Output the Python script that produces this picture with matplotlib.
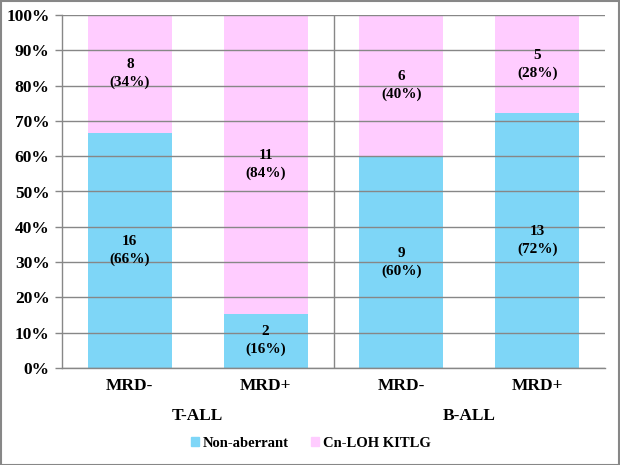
import matplotlib.pyplot as plt
from matplotlib.patches import Rectangle

plt.rcParams['font.family'] = ['Liberation Serif', 'DejaVu Serif']
plt.rcParams['font.weight'] = 'bold'

categories = ["MRD-", "MRD+", "MRD-", "MRD+"]
groups = ["T-ALL", "B-ALL"]
non_aberrant_pct = [66.7, 15.4, 60.0, 72.2]
cnloh_pct = [33.3, 84.6, 40.0, 27.8]
non_aberrant_n = [16, 2, 9, 13]
cnloh_n = [8, 11, 6, 5]
non_aberrant_lbl = ["66%", "16%", "60%", "72%"]
cnloh_lbl = ["34%", "84%", "40%", "28%"]

blue = "#7ED6F7"
pink = "#FFCCFF"
grey = "#878787"

fig = plt.figure(figsize=(6.2, 4.65), dpi=100)
ax = fig.add_axes([62 / 620, 1 - 368 / 465, 543 / 620, 353 / 465])

x = range(len(categories))
ax.bar(x, non_aberrant_pct, width=0.62, color=blue, zorder=1)
ax.bar(x, cnloh_pct, width=0.62, bottom=non_aberrant_pct, color=pink, zorder=1)

for i in x:
    ax.text(i, non_aberrant_pct[i] / 2, f"{non_aberrant_n[i]}\n({non_aberrant_lbl[i]})",
            ha="center", va="center", fontsize=11, fontweight="bold", linespacing=1.45, zorder=3)
    ax.text(i, non_aberrant_pct[i] + cnloh_pct[i] / 2, f"{cnloh_n[i]}\n({cnloh_lbl[i]})",
            ha="center", va="center", fontsize=11, fontweight="bold", linespacing=1.45, zorder=3)

ax.set_xlim(-0.5, 3.5)
ax.set_ylim(0, 100)
ax.set_yticks(range(0, 101, 10))
ax.set_yticklabels([f"{v}%" for v in range(0, 101, 10)], fontsize=12.5, fontweight="bold")
ax.yaxis.grid(True, color=grey, linewidth=1.0)
ax.set_axisbelow(False)
ax.tick_params(axis="y", length=5, color=grey, width=1.0, pad=4)
ax.tick_params(axis="x", length=0, pad=7)
ax.set_xticks(list(x))
ax.set_xticklabels(categories, fontsize=12.5, fontweight="bold")

for side in ["top", "right"]:
    ax.spines[side].set_visible(False)
for side in ["left", "bottom"]:
    ax.spines[side].set_color(grey)
    ax.spines[side].set_linewidth(1.0)

# group separator and group labels
ax.axvline(1.5, color=grey, linewidth=1.0, zorder=2)
ax.text(0.5, -0.135, groups[0], transform=ax.get_xaxis_transform(),
        ha="center", va="center", fontsize=12.5, fontweight="bold")
ax.text(2.5, -0.135, groups[1], transform=ax.get_xaxis_transform(),
        ha="center", va="center", fontsize=12.5, fontweight="bold")

handles = [Rectangle((0, 0), 1, 1, color=blue), Rectangle((0, 0), 1, 1, color=pink)]
fig.legend(handles, ["Non-aberrant", "Cn-LOH KITLG"], loc="center",
           bbox_to_anchor=(311 / 620, 1 - 443 / 465), ncol=2, frameon=False,
           prop={"size": 10.5, "weight": "bold"}, handlelength=0.55, handleheight=0.55,
           handletextpad=0.3, columnspacing=1.5)

fig.patches.append(Rectangle((0.5 / 620, 0.5 / 465), 618 / 620, 463 / 465,
                             transform=fig.transFigure, fill=False,
                             edgecolor=grey, linewidth=1.5))

fig.savefig("out.png", dpi=100)
